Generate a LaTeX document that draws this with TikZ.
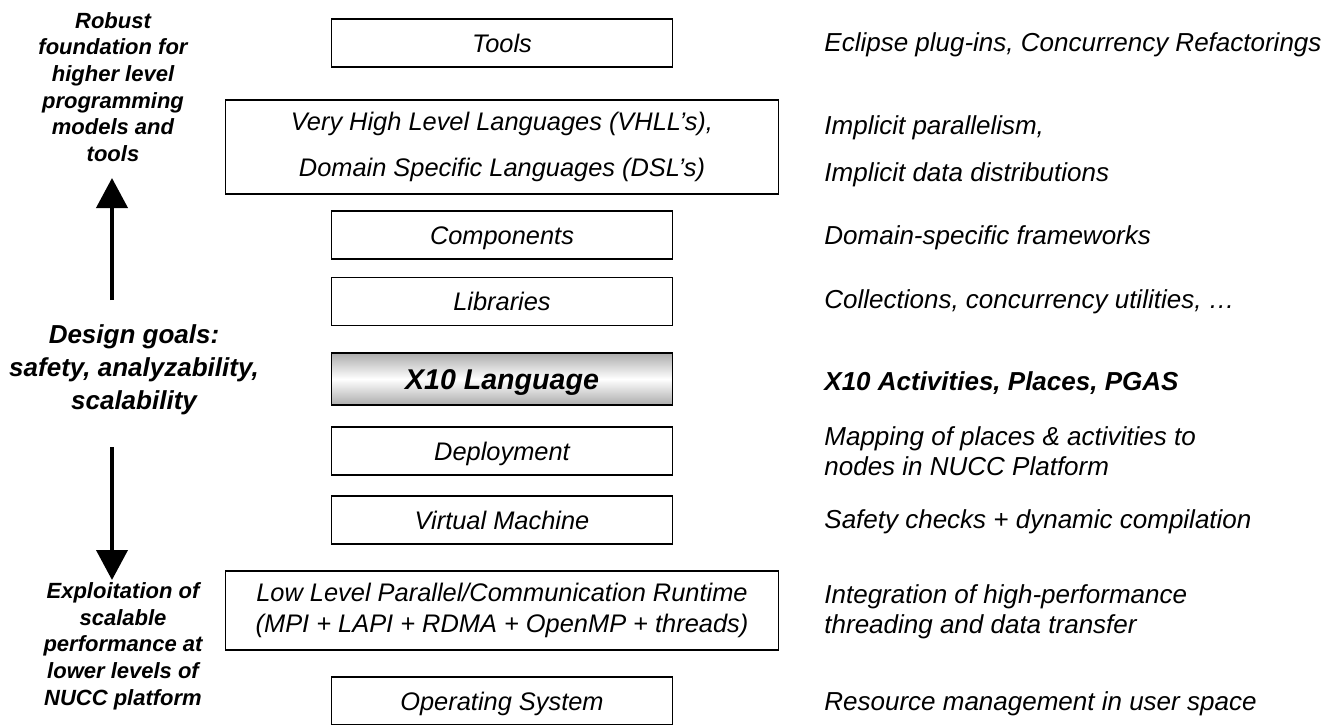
\documentclass[tikz,border=0pt]{standalone}
\usepackage{fontspec}
\setmainfont{Liberation Sans}
\usetikzlibrary{arrows.meta}
\tikzset{
	layer/.style={draw=black,line width=0.8pt,minimum width=170.5pt,minimum height=24pt,inner sep=0pt,font=\fontsize{12.7}{15.5}\selectfont\itshape},
	onelayer/.style={layer,text height=10pt,text depth=1pt},
	widelayer/.style={layer,align=center,minimum width=276.5pt},
	note/.style={anchor=west,inner sep=0pt,align=left,font=\fontsize{13}{15}\selectfont\itshape},
	goal/.style={inner sep=0pt,align=center,font=\fontsize{11}{13.35}\selectfont\bfseries\itshape},
	bigarrow/.style={line width=2pt,-{Triangle[width=15.5pt,length=15pt]}}
}
\begin{document}
\begin{tikzpicture}[x=0.5pt,y=-0.5pt]
	\useasboundingbox (0,0) rectangle (1342,724);
	\begin{scope}[every node/.style={onelayer}]
		\node (tools) at (502,43) {Tools};
		\node (comp) at (502,235) {Components};
		\node (lib) at (502,301.5) {Libraries};
		\node[minimum height=26pt,text height=11pt,text depth=1pt,top color=gray!65,bottom color=gray!65,middle color=white,font=\fontsize{14.3}{17}\selectfont\bfseries\itshape] (x10) at (502,379) {X10 Language};
		\node (deploy) at (502,451) {Deployment};
		\node (vm) at (502,520) {Virtual Machine};
		\node (os) at (502,701) {Operating System};
	\end{scope}
	\begin{scope}[every node/.style={widelayer}]
		\node[minimum height=47pt] (vhll) at (502,147) {Very High Level Languages (VHLL’s),\\[7.5pt]Domain Specific Languages (DSL’s)};
		\node[minimum height=39.5pt] (runtime) at (502,610.5) {Low Level Parallel/Communication Runtime\\(MPI + LAPI + RDMA + OpenMP + threads)};
	\end{scope}
	\begin{scope}[every node/.style={note}]
		\node (ntools) at (824,45) {Eclipse plug-ins, Concurrency Refactorings};
		\node (nvhll) at (824,151) {Implicit parallelism,\\[8.5pt]Implicit data distributions};
		\node (ncomp) at (824,238) {Domain-specific frameworks};
		\node (nlib) at (824,302) {Collections, concurrency utilities, …};
		\node[font=\fontsize{13}{15}\selectfont\bfseries\itshape] (nx10) at (824,383) {X10 Activities, Places, PGAS};
		\node (ndeploy) at (824,451) {Mapping of places \& activities to\\nodes in NUCC Platform};
		\node (nvm) at (824,522) {Safety checks + dynamic compilation};
		\node (nruntime) at (824,612) {Integration of high-performance\\threading and data transfer};
		\node (nos) at (824,704) {Resource management in user space};
	\end{scope}
	\begin{scope}[every node/.style={goal}]
		\node (robust) at (113,87) {Robust\\foundation for\\higher level\\programming\\models and\\tools};
		\node[font=\fontsize{13}{16.5}\selectfont\bfseries\itshape] (goals) at (134,370) {Design goals:\\safety, analyzability,\\scalability};
		\node (exploit) at (123,646) {Exploitation of\\scalable\\performance at\\lower levels of\\NUCC platform};
	\end{scope}
	\coordinate (upfrom) at (112,300);
	\coordinate (upto) at (112,178);
	\coordinate (downfrom) at (112,447);
	\coordinate (downto) at (112,580);
	\draw[bigarrow] (upfrom) -- (upto);
	\draw[bigarrow] (downfrom) -- (downto);
\end{tikzpicture}
\end{document}
